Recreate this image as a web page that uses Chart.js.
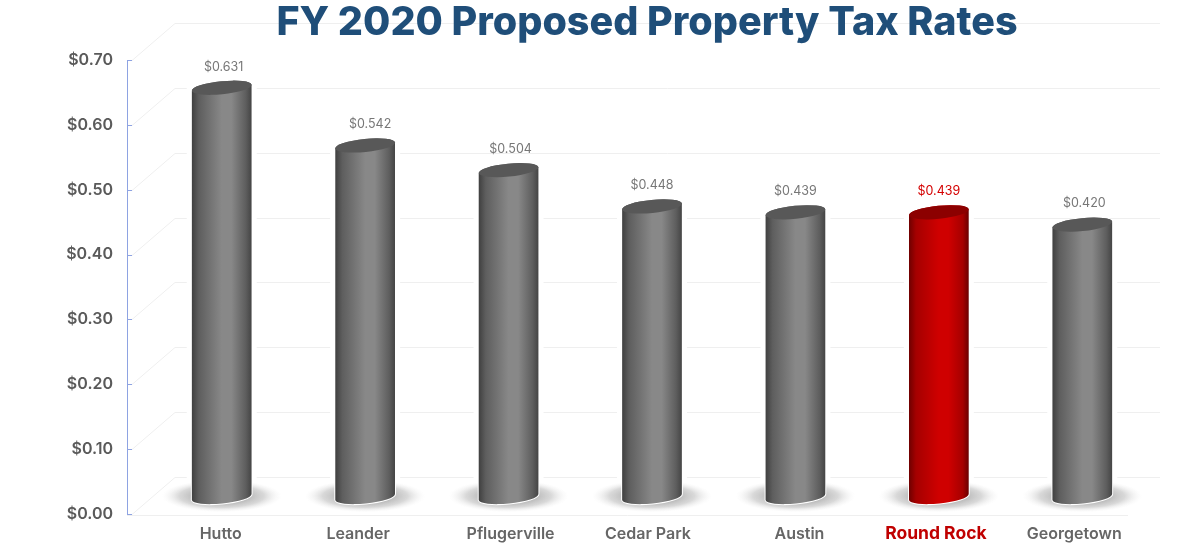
<!DOCTYPE html>
<html>
<head>
<meta charset="utf-8">
<title>FY 2020 Proposed Property Tax Rates</title>
<script src="https://cdn.jsdelivr.net/npm/chart.js@4"></script>
<style>
  html, body { margin: 0; padding: 0; background: #fff; }
  #wrap { position: relative; width: 1200px; height: 549px; }
</style>
</head>
<body>
<div id="wrap"><canvas id="taxChart" width="1200" height="549"></canvas></div>
<script>
// ─── DATA ───
const chartTitle = 'FY 2020 Proposed Property Tax Rates';
const categories = ['Hutto', 'Leander', 'Pflugerville', 'Cedar Park', 'Austin', 'Round Rock', 'Georgetown'];
const taxRates = [0.631, 0.542, 0.504, 0.448, 0.439, 0.439, 0.420];
const highlighted = 'Round Rock';

// ─── LOOK ───
const FONT = "Inter, 'Open Sans', sans-serif";
const DEPTH_X = 48, DEPTH_Y = -37;   // floor depth of the fake 3D box
const BAR_SHIFT_Y = -17;             // bars stand mid-way on the floor
const GRAY = { edgeL: '#3f3f3f', dark: '#5e5e5e', mid: '#888888', edgeR: '#444444', cap: '#585858', label: '#777777', tick: '#666666' };
const RED  = { edgeL: '#6e0000', dark: '#a50000', mid: '#cf0000', edgeR: '#680000', cap: '#8c0000', label: '#d40000', tick: '#c00000' };
// the labels in the picture sit a little off the bar centres
const labelShift = [-1, -7, 2, -4, 4, -3, -8];
const valueShift = [2, 5, 2, 0, 0, 0, 2];

const colorsFor = i => categories[i] === highlighted ? RED : GRAY;

// ─── 3D BOX, AXIS, SHADOWS, TITLE (under everything else) ───
const boxPlugin = {
  id: 'box3d',
  beforeDraw(chart) {
    const { ctx, scales: { y }, chartArea } = chart;
    const axisX = chartArea.left - 23;
    const wallL = axisX + DEPTH_X, wallR = chartArea.right + 6;
    ctx.save();
    ctx.lineWidth = 1;
    ctx.strokeStyle = '#efefef';
    y.ticks.forEach(t => {
      const py = Math.round(y.getPixelForValue(t.value)) + 0.5;
      ctx.beginPath();
      ctx.moveTo(axisX + 5, py);
      ctx.lineTo(wallL, py + DEPTH_Y);
      ctx.lineTo(wallR, py + DEPTH_Y);
      ctx.stroke();
    });
    // front floor edge
    const y0 = Math.round(y.getPixelForValue(0)) + 1.5;
    ctx.beginPath();
    ctx.moveTo(axisX, y0);
    ctx.lineTo(wallR - DEPTH_X + 16, y0);
    ctx.stroke();
    // blue axis line with inner ticks
    ctx.strokeStyle = '#8ea3e2';
    ctx.beginPath();
    ctx.moveTo(axisX + 0.5, y.top);
    ctx.lineTo(axisX + 0.5, y.bottom);
    y.ticks.forEach(t => {
      const py = Math.round(y.getPixelForValue(t.value)) + 0.5;
      ctx.moveTo(axisX, py);
      ctx.lineTo(axisX + 5, py);
    });
    ctx.stroke();
    // floor shadows and white halo behind each bar
    chart.getDatasetMeta(0).data.forEach(bar => {
      const top = bar.y + BAR_SHIFT_Y, bottom = bar.base + BAR_SHIFT_Y;
      ctx.fillStyle = '#fff';
      ctx.fillRect(bar.x - 35, top, 70, bottom - top);
      ctx.save();
      ctx.translate(bar.x, bottom - 1);
      ctx.scale(1, 0.27);
      const g = ctx.createRadialGradient(0, 0, 25, 0, 0, 60);
      g.addColorStop(0, 'rgba(150,150,150,0.7)');
      g.addColorStop(0.5, 'rgba(185,185,185,0.55)');
      g.addColorStop(1, 'rgba(235,235,235,0)');
      ctx.fillStyle = g;
      ctx.beginPath();
      ctx.arc(0, 0, 60, 0, Math.PI * 2);
      ctx.fill();
      ctx.restore();
    });
    // title goes over the back wall line
    ctx.fillStyle = '#1f4e79';
    ctx.font = `800 39.5px ${FONT}`;
    ctx.textAlign = 'center';
    ctx.textBaseline = 'alphabetic';
    ctx.fillText(chartTitle, 647, 35);
    ctx.restore();
  },
};

// ─── CYLINDERS, VALUE LABELS, X LABELS ───
const cylinderPlugin = {
  id: 'cylinders',
  afterDatasetsDraw(chart) {
    const { ctx } = chart;
    const tilt = -0.1, ry = 6.5;
    chart.getDatasetMeta(0).data.forEach((bar, i) => {
      const c = colorsFor(i);
      const isHot = categories[i] === highlighted;
      const rx = bar.width / 2;
      const top = bar.y + BAR_SHIFT_Y, bottom = bar.base + BAR_SHIFT_Y;
      const outline = () => {
        ctx.beginPath();
        ctx.ellipse(bar.x, bottom, rx, ry, tilt, 0, Math.PI);
        ctx.ellipse(bar.x, top, rx, ry, tilt, Math.PI, Math.PI * 2);
        ctx.closePath();
      };
      ctx.save();
      outline();
      ctx.strokeStyle = '#fff';
      ctx.lineWidth = 2;
      ctx.stroke();
      const g = ctx.createLinearGradient(bar.x - rx, 0, bar.x + rx, 0);
      g.addColorStop(0, c.edgeL);
      g.addColorStop(0.12, c.dark);
      g.addColorStop(0.5, c.mid);
      g.addColorStop(0.66, c.mid);
      g.addColorStop(0.9, c.dark);
      g.addColorStop(1, c.edgeR);
      outline();
      ctx.fillStyle = g;
      ctx.fill();
      // top cap
      ctx.beginPath();
      ctx.ellipse(bar.x, top, rx, ry, tilt, 0, Math.PI * 2);
      ctx.fillStyle = c.cap;
      ctx.fill();
      // value label
      ctx.fillStyle = c.label;
      ctx.font = `400 12.5px ${FONT}`;
      ctx.textAlign = 'center';
      ctx.textBaseline = 'middle';
      ctx.fillText('$' + taxRates[i].toFixed(3), bar.x + valueShift[i], bar.y - 38);
      // category label
      ctx.fillStyle = c.tick;
      ctx.font = isHot ? `700 17.5px ${FONT}` : `600 16px ${FONT}`;
      ctx.fillText(categories[i], bar.x + labelShift[i], 534);
      ctx.restore();
    });
  },
};

new Chart(document.getElementById('taxChart'), {
  type: 'bar',
  data: {
    labels: categories,
    datasets: [{ data: taxRates, barThickness: 60, backgroundColor: 'rgba(0,0,0,0)', borderWidth: 0 }],
  },
  plugins: [boxPlugin, cylinderPlugin],
  options: {
    responsive: false,
    animation: false,
    layout: { autoPadding: false, padding: { top: 60, right: 46, bottom: 35 } },
    plugins: {
      legend: { display: false },
      tooltip: { enabled: false },
      title: { display: false },
    },
    scales: {
      x: { display: false },
      y: {
        min: 0,
        max: 0.7,
        grid: { display: false },
        border: { display: false },
        ticks: {
          stepSize: 0.1,
          padding: 29,
          color: '#5a5a5a',
          font: { family: FONT, size: 16, weight: '600' },
          callback: v => '$' + Number(v).toFixed(2),
        },
        // tick padding would otherwise push the plot bottom up by ~39px
        afterFit: s => { s.width = 150; s.paddingTop = 0; s.paddingBottom = 0; },
      },
    },
  },
});
</script>
</body>
</html>
